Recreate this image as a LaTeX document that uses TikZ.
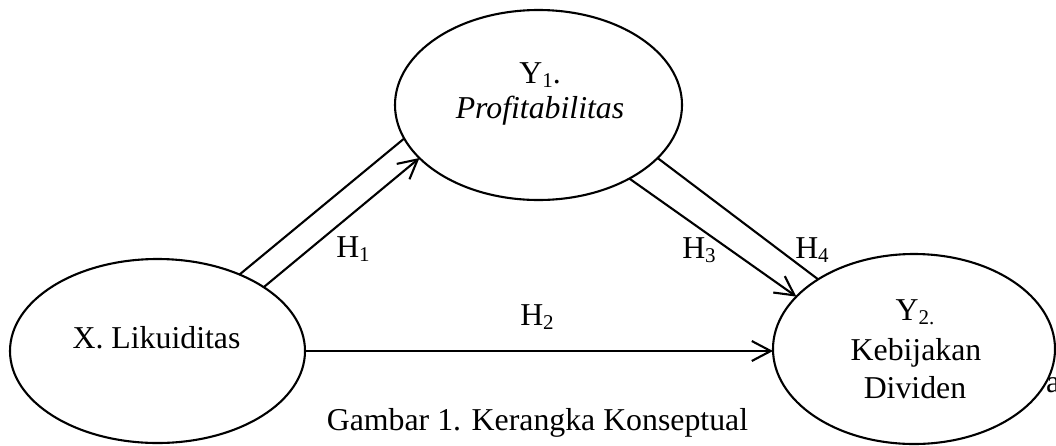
\documentclass[tikz,border=0pt]{standalone}
\usepackage{fontspec}
\setmainfont{Liberation Serif}
\usetikzlibrary{shapes.geometric,arrows.meta}
\newcommand\subs[1]{\raisebox{-4pt}{\fontsize{21}{21}\selectfont #1}}
\begin{document}
\begin{tikzpicture}[x=1pt,y=-1pt,
  txt/.style={font=\fontsize{31.8}{38}\selectfont, inner sep=0pt, anchor=base},
  var/.style={draw, ellipse, line width=2.1pt, inner sep=0pt, outer sep=0pt},
  link/.style={line width=2.1pt},
  arr/.style={link, -{Straight Barb[length=19pt,width=20pt]}}]
\useasboundingbox (0,0) rectangle (1056,445);
% ellipses
\node[var, minimum width=295pt, minimum height=184pt] (X) at (157.5,351) {};
\node[var, minimum width=287pt, minimum height=190pt] (Y1) at (538.5,105) {};
\node[var, minimum width=282pt, minimum height=190pt] (Y2) at (914,349) {};
% texts in ellipses
\node[txt] (tX) at (156.5,348) {X. Likuiditas};
\node[txt] (tY1a) at (540,83) {Y\subs{1}.};
\node[txt] (tY1b) at (540,118) {\textit{Profitabilitas}};
\node[txt] (tY2a) at (915,320) {Y\subs{2.}};
\node[txt] (tY2b) at (916,360) {Kebijakan};
\node[txt] (tY2c) at (915,398) {Dividen};
\node[txt, anchor=base west] (stray) at (1046,392) {a};
% connectors
\draw[link] (X.43.7) -- (Y1.194.2);
\draw[arr] (X.31.6) -- (Y1.204.9);
\draw[link] (Y1.336.4) -- (Y2.144.2);
\draw[arr] (Y1.321.6) -- (Y2.156.4);
\draw[arr] (X.east) -- (X.east -| Y2.west);
% labels
\node[txt] (h1) at (353,257) {H\subs{1}};
\node[txt] (h2) at (537,325) {H\subs{2}};
\node[txt] (h3) at (699,258) {H\subs{3}};
\node[txt] (h4) at (812,258) {H\subs{4}};
\node[txt] (cap) at (537.5,430) {Gambar 1. Kerangka Konseptual};
\end{tikzpicture}
\end{document}
